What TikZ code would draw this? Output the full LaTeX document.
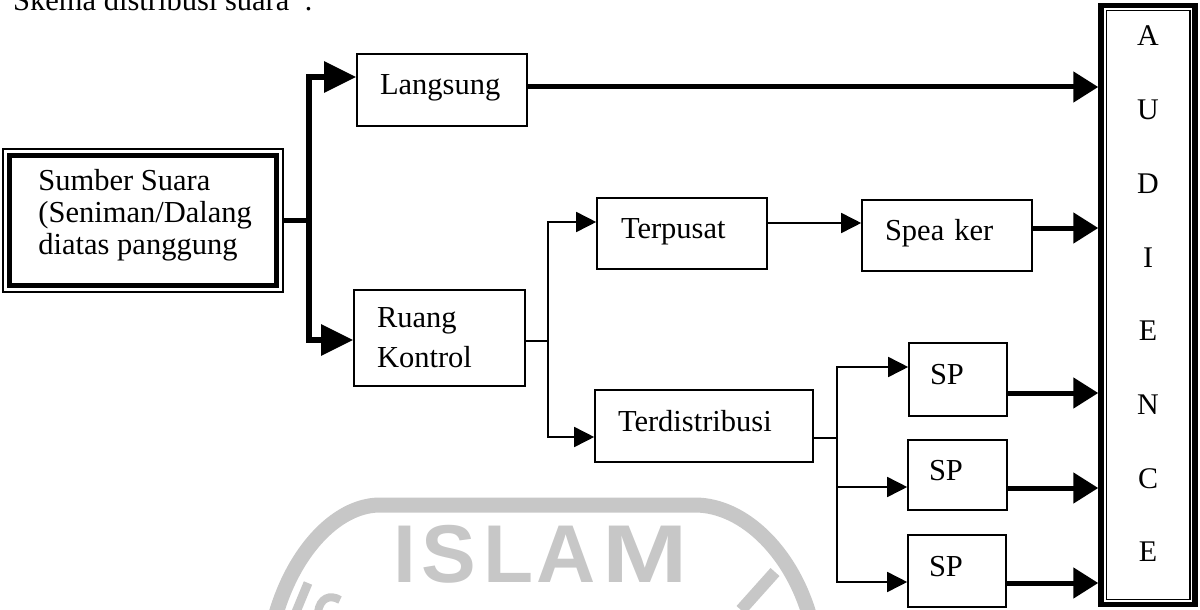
\documentclass[tikz,border=0pt]{standalone}
\usepackage{fontspec}
\setmainfont{Liberation Serif}
\setsansfont{Liberation Sans}
\usetikzlibrary{arrows.meta,calc}
\begin{document}
\begin{tikzpicture}[x=1pt,y=-1pt,
  txt/.style={font=\fontsize{30.5}{32}\selectfont},
  box/.style={draw,line width=1.6pt,txt,align=left,inner ysep=0pt,
    text height=20pt,text depth=10pt,inner xsep=23pt},
  thinln/.style={line width=1.6pt},
  thinarr/.style={line width=1.6pt,-{Triangle[length=20pt,width=20pt]}},
  thickln/.style={line width=5.5pt},
  thickarr/.style={line width=5.5pt,line join=miter,-{Triangle[length=32pt,width=30pt]}},
  outarr/.style={line width=5pt,-{Triangle[length=25pt,width=30pt]}},
  emblemline/.style={draw=black!22,line width=15pt},
  emblemletter/.style={text=black!22,inner sep=0pt,anchor=base,
    font=\sffamily\bfseries\fontsize{82}{82}\selectfont}
]
\useasboundingbox (0,0) rectangle (1200,610);

% faint emblem in the background
\draw[emblemline] (273,625) .. controls (290,555) and (335,505) .. (380,505)
  -- (695,505) .. controls (745,505) and (795,555) .. (812,625);
\node[emblemletter] (e1) at (405,582) {I};
\node[emblemletter] (e2) at (448.5,582) {S};
\node[emblemletter] (e3) at (509,582) {L};
\node[emblemletter] (e4) at (566,582) {A};
\node[emblemletter] (e5) at (645.5,582) {\scalebox{1.25}[1]{M}};
\draw[draw=black!22,line width=9pt] (308,583) -- (296,612);
\draw[draw=black!22,line width=8pt] (318,612) .. controls (320,598) and (330,594) .. (340,600);
\draw[draw=black!22,line width=12pt] (775,572) -- (741,610);

% heading, cut by the page top
\node[txt,anchor=base west,inner sep=0pt] (title) at (13,11)
  {Skema distribusi suara\hspace{15pt}:};

% source box with double border
\node[draw,line width=1.5pt,minimum width=280pt,minimum height=143pt] (sumber) at (143,220.5) {};
\draw[line width=5pt] ($(sumber.north west)+(7,7)$) rectangle ($(sumber.south east)+(-7.5,-7)$);
\node[txt,align=left,anchor=west,inner sep=0pt] (sumbertext) at ($(sumber.west)+(36,-5)$)
  {Sumber Suara\\(Seniman/Dalang\\diatas panggung};

% boxes
\node[box,text width=124pt,minimum height=72pt] (langsung) at (442,90) {Langsung};
\node[draw,line width=1.6pt,font=\fontsize{30.5}{40}\selectfont,align=left,
  text width=125pt,inner xsep=23pt,minimum height=96pt] (ruang) at (439.5,338) {Ruang\\Kontrol};
\node[box,text width=122pt,minimum height=71pt,inner xsep=24pt] (terpusat) at (682,233.5) {Terpusat};
\node[box,text width=172pt,minimum height=72pt] (terdistribusi) at (704,426) {Terdistribusi};
\node[box,text width=124pt,minimum height=71pt] (speaker) at (947,235.5) {Spea ker};
\node[box,text width=56pt,minimum height=73pt,inner xsep=21pt] (sp1) at (958,379.5) {SP};
\node[box,text width=57pt,minimum height=70pt,inner xsep=21pt] (sp2) at (957.5,475) {SP};
\node[box,text width=56pt,minimum height=72pt,inner xsep=21pt] (sp3) at (957,571) {SP};

% audience column: thick frame, thin inner frame, one letter per line
\node[draw,line width=5.5pt,minimum width=94pt,minimum height=599pt,inner sep=0pt] (audience) at (1148,305) {};
\draw[line width=1.5pt] ($(audience.north west)+(8,8)$) rectangle ($(audience.south east)+(-8,-8)$);
\node[align=center,inner sep=0pt,font=\fontsize{30}{73.7}\selectfont]
  (audiencetext) at ($(audience.center)+(0,-11)$) {A\\U\\D\\I\\E\\N\\C\\E};

% junction points
\coordinate (j1) at (309,221);
\coordinate (j1t) at (309,77);
\coordinate (j1b) at (309,340);
\coordinate (j2) at (548,341);
\coordinate (j2t) at (548,222);
\coordinate (j2b) at (548,437);
\coordinate (c1) at (800,223);
\coordinate (j3) at (837,438);
\coordinate (j3t) at (837,367);
\coordinate (j3m) at (837,487);
\coordinate (j3b) at (837,582);
\coordinate (r1) at (1060,87);
\coordinate (r2) at (1060,228);
\coordinate (r3) at (1060,393);
\coordinate (r4) at (1060,488);
\coordinate (r5) at (1060,583);

% thick feeds from the source
\draw[thickln] (sumber.east) -- (sumber.east -| j1);
\draw[thickarr] (j1) -- (j1t) -- (langsung.west |- j1t);
\draw[thickarr] (j1) -- (j1b) -- (ruang.west |- j1b);

% control room split
\draw[thinln] (ruang.east |- j2) -- (j2);
\draw[thinarr] (j2) -- (j2t) -- (terpusat.west |- j2t);
\draw[thinarr] (j2) -- (j2b) -- (terdistribusi.west |- j2b);
\draw[thinarr] (terpusat.east |- c1) -- (speaker.west |- c1);

% distributed speakers
\draw[thinln] (terdistribusi.east |- j3) -- (j3);
\draw[thinarr] (j3) -- (j3t) -- (sp1.west |- j3t);
\draw[thinarr] (j3) -- (j3b) -- (sp3.west |- j3b);
\draw[thinarr] (j3m) -- (sp2.west |- j3m);

% into the audience
\draw[outarr] (langsung.east |- r1) -- (audience.west |- r1);
\draw[outarr] (speaker.east |- r2) -- (audience.west |- r2);
\draw[outarr] (sp1.east |- r3) -- (audience.west |- r3);
\draw[outarr] (sp2.east |- r4) -- (audience.west |- r4);
\draw[outarr] (sp3.east |- r5) -- (audience.west |- r5);
\end{tikzpicture}
\end{document}
